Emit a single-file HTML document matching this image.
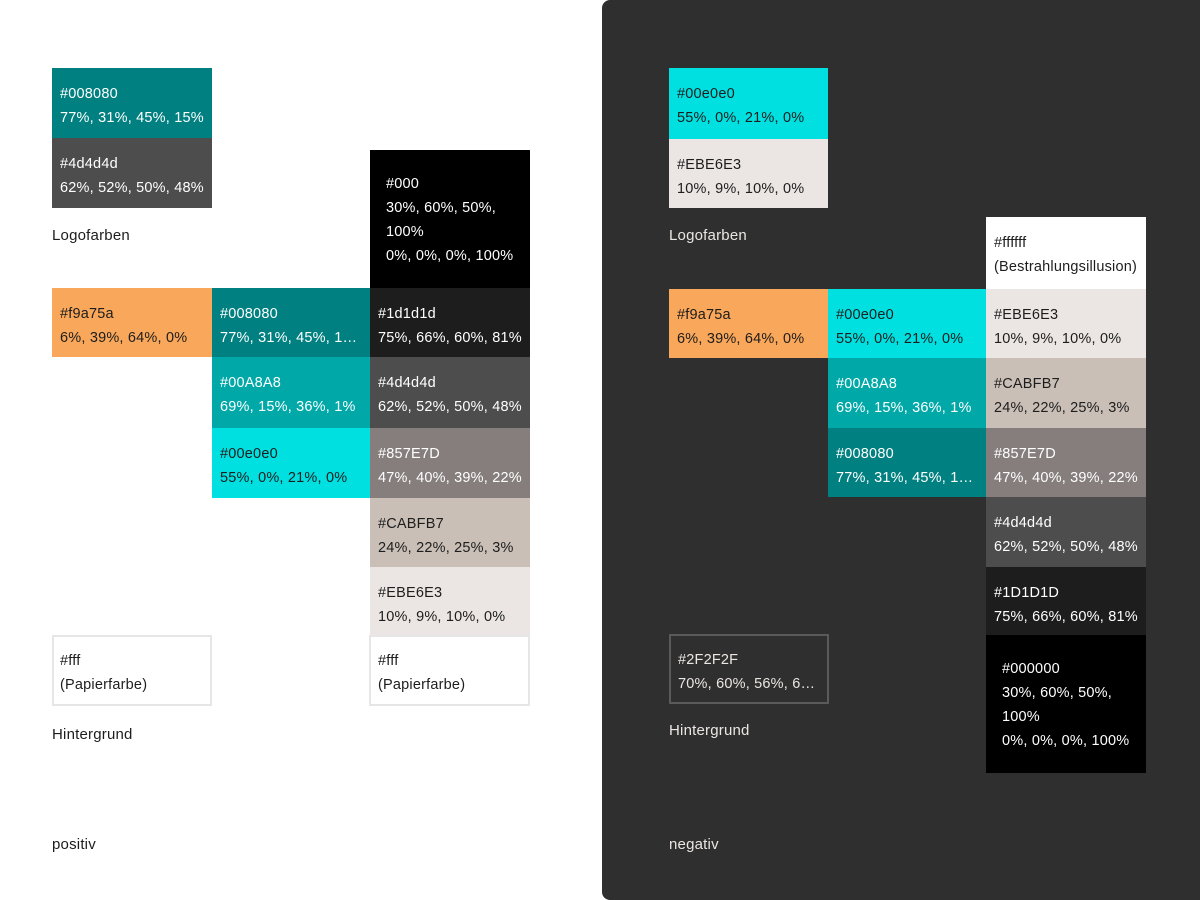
<!DOCTYPE html>
<html><head><meta charset="utf-8"><style>
body{margin:0;width:1200px;height:900px;background:#fff;position:relative;overflow:hidden;font-family:"Liberation Sans",sans-serif;font-size:14.5px;letter-spacing:0.2px;}
.p{position:absolute;left:602px;top:0;width:598px;height:900px;background:#2f2f2f;border-radius:8px 0 0 8px;}
.s{position:absolute;box-sizing:border-box;padding:14px 8px 0 8px;line-height:24px;white-space:nowrap;overflow:hidden;}
.s div{overflow:hidden;text-overflow:ellipsis;}
.w{color:#fff}.d{color:#1d1d1d}
.l{position:absolute;font-size:15px;line-height:20px;}
</style></head><body>
<div class="p"></div>

<div class="s w" style="left:52px;top:68px;width:160px;height:70px;background:#008080"><div>#008080</div><div>77%, 31%, 45%, 15%</div></div>
<div class="s w" style="left:52px;top:138px;width:160px;height:70px;background:#4d4d4d"><div>#4d4d4d</div><div>62%, 52%, 50%, 48%</div></div>
<div class="l d" style="left:52px;top:226px">Logofarben</div>

<div class="s w" style="left:370px;top:150px;width:160px;height:138px;background:#000;padding:22px 16px 0 16px;white-space:normal"><div>#000</div><div>30%, 60%, 50%, 100%</div><div style="white-space:nowrap">0%, 0%, 0%, 100%</div></div>

<div class="s d" style="left:52px;top:288px;width:160px;height:69px;background:#f9a75a"><div>#f9a75a</div><div>6%, 39%, 64%, 0%</div></div>
<div class="s w" style="left:212px;top:288px;width:158px;height:69px;background:#008080"><div>#008080</div><div>77%, 31%, 45%, 15%</div></div>
<div class="s w" style="left:370px;top:288px;width:160px;height:69px;background:#1d1d1d"><div>#1d1d1d</div><div>75%, 66%, 60%, 81%</div></div>
<div class="s w" style="left:212px;top:357px;width:158px;height:71px;background:#00a8a8"><div>#00A8A8</div><div>69%, 15%, 36%, 1%</div></div>
<div class="s w" style="left:370px;top:357px;width:160px;height:71px;background:#4d4d4d"><div>#4d4d4d</div><div>62%, 52%, 50%, 48%</div></div>
<div class="s d" style="left:212px;top:428px;width:158px;height:70px;background:#00e0e0"><div>#00e0e0</div><div>55%, 0%, 21%, 0%</div></div>
<div class="s w" style="left:370px;top:428px;width:160px;height:70px;background:#857e7d"><div>#857E7D</div><div>47%, 40%, 39%, 22%</div></div>
<div class="s d" style="left:370px;top:498px;width:160px;height:69px;background:#cabfb7"><div>#CABFB7</div><div>24%, 22%, 25%, 3%</div></div>
<div class="s d" style="left:370px;top:567px;width:160px;height:68px;background:#ebe6e3"><div>#EBE6E3</div><div>10%, 9%, 10%, 0%</div></div>
<div class="s d" style="left:52px;top:635px;width:160px;height:71px;border:2px solid #e6e6e6;padding:12px 6px 0"><div>#fff</div><div>(Papierfarbe)</div></div>
<div class="s d" style="left:369px;top:635px;width:161px;height:71px;border:2px solid #e6e6e6;padding:12px 7px 0"><div>#fff</div><div>(Papierfarbe)</div></div>
<div class="l d" style="left:52px;top:725px">Hintergrund</div>
<div class="l d" style="left:52px;top:835px">positiv</div>

<div class="s d" style="left:669px;top:68px;width:159px;height:71px;background:#00e0e0"><div>#00e0e0</div><div>55%, 0%, 21%, 0%</div></div>
<div class="s d" style="left:669px;top:139px;width:159px;height:69px;background:#ebe6e3"><div>#EBE6E3</div><div>10%, 9%, 10%, 0%</div></div>
<div class="l" style="left:669px;top:226px;color:#ebe6e3">Logofarben</div>

<div class="s d" style="left:986px;top:217px;width:160px;height:72px;background:#fff"><div>#ffffff</div><div>(Bestrahlungsillusion)</div></div>
<div class="s d" style="left:669px;top:289px;width:159px;height:69px;background:#f9a75a"><div>#f9a75a</div><div>6%, 39%, 64%, 0%</div></div>
<div class="s d" style="left:828px;top:289px;width:158px;height:69px;background:#00e0e0"><div>#00e0e0</div><div>55%, 0%, 21%, 0%</div></div>
<div class="s d" style="left:986px;top:289px;width:160px;height:69px;background:#ebe6e3"><div>#EBE6E3</div><div>10%, 9%, 10%, 0%</div></div>
<div class="s w" style="left:828px;top:358px;width:158px;height:70px;background:#00a8a8"><div>#00A8A8</div><div>69%, 15%, 36%, 1%</div></div>
<div class="s d" style="left:986px;top:358px;width:160px;height:70px;background:#cabfb7"><div>#CABFB7</div><div>24%, 22%, 25%, 3%</div></div>
<div class="s w" style="left:828px;top:428px;width:158px;height:69px;background:#008080"><div>#008080</div><div>77%, 31%, 45%, 15%</div></div>
<div class="s w" style="left:986px;top:428px;width:160px;height:69px;background:#857e7d"><div>#857E7D</div><div>47%, 40%, 39%, 22%</div></div>
<div class="s w" style="left:986px;top:497px;width:160px;height:70px;background:#4d4d4d"><div>#4d4d4d</div><div>62%, 52%, 50%, 48%</div></div>
<div class="s w" style="left:986px;top:567px;width:160px;height:68px;background:#1d1d1d"><div>#1D1D1D</div><div>75%, 66%, 60%, 81%</div></div>
<div class="s w" style="left:986px;top:635px;width:160px;height:138px;background:#000;padding:22px 16px 0 16px"><div>#000000</div><div>30%, 60%, 50%,</div><div>100%</div><div>0%, 0%, 0%, 100%</div></div>
<div class="s" style="left:669px;top:634px;width:160px;height:70px;border:2px solid #5a5a5a;padding:12px 7px 0;color:#ebe6e3"><div>#2F2F2F</div><div>70%, 60%, 56%, 61%</div></div>
<div class="l" style="left:669px;top:721px;color:#ebe6e3">Hintergrund</div>
<div class="l" style="left:669px;top:835px;color:#ebe6e3">negativ</div>
</body></html>
